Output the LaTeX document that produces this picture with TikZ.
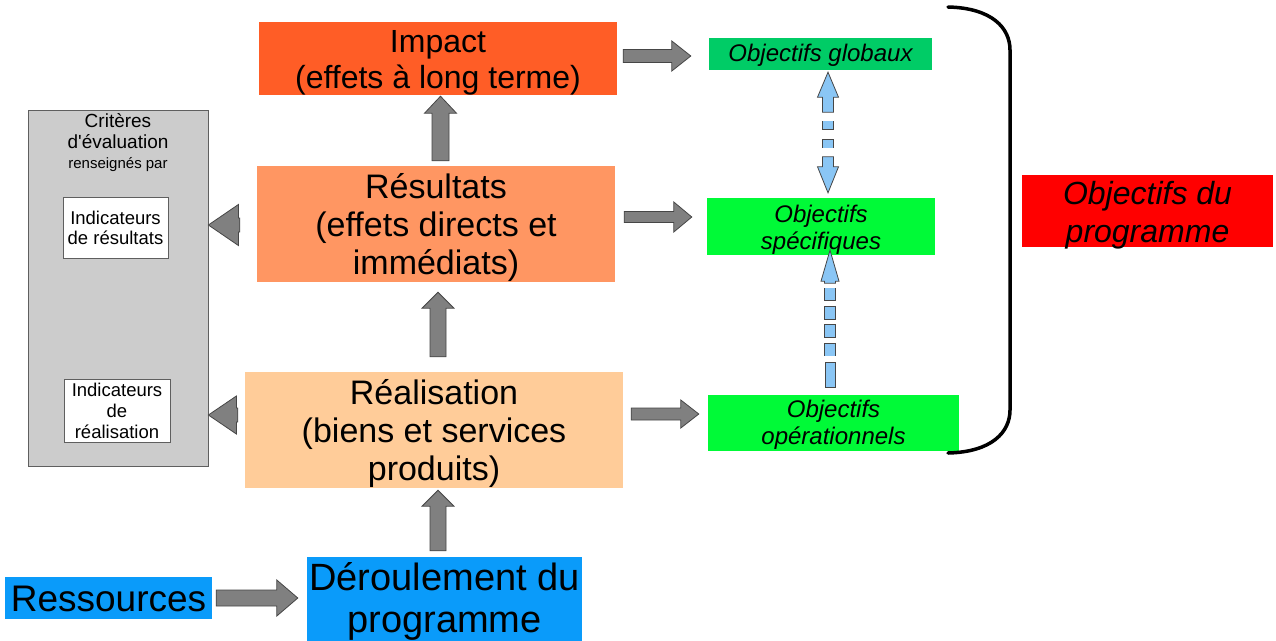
\documentclass[tikz,border=0pt]{standalone}
\usepackage{fontspec}
\setmainfont{Liberation Sans}
\usetikzlibrary{calc}
\definecolor{cimpact}{RGB}{255,93,38}
\definecolor{cres}{RGB}{255,150,98}
\definecolor{creal}{RGB}{255,204,153}
\definecolor{cblue}{RGB}{10,155,250}
\definecolor{cgreenA}{RGB}{0,204,102}
\definecolor{cgreenB}{RGB}{0,250,55}
\definecolor{cred}{RGB}{255,0,0}
\definecolor{cgreybox}{RGB}{204,204,204}
\definecolor{cgreyline}{RGB}{95,95,95}
\definecolor{carrow}{RGB}{128,128,128}
\definecolor{carrowline}{RGB}{70,70,70}
\definecolor{clblue}{RGB}{138,198,245}
\def\barshaft{6}\def\barhead{15}\def\barlen{19}
\tikzset{
  barshaft/.code={\def\barshaft{#1}},
  barhead/.code={\def\barhead{#1}},
  barlen/.code={\def\barlen{#1}},
  grarrow/.style={draw=carrowline, fill=carrow, line width=0.8pt, line join=miter},
  blarrow/.style={draw=carrowline, fill=clblue, line width=0.8pt, line join=miter},
  box/.style={rectangle, inner sep=0pt},
  txt/.style={inner sep=0pt, align=center, text=black},
  dashout/.style={draw=carrowline, line width=11.6pt},
  dashin/.style={draw=clblue, line width=10pt},
}
\newcommand\blockarr[3][]{%
  \path[#1] let \p1=#2, \p2=#3, \n1={atan2(\y2-\y1,\x2-\x1)}, \n2={veclen(\x2-\x1,\y2-\y1)} in
   [shift={(\p1)}, rotate=\n1] (0,-\barshaft) -- (\n2-\barlen,-\barshaft) -- (\n2-\barlen,-\barhead) -- (\n2,0) -- (\n2-\barlen,\barhead) -- (\n2-\barlen,\barshaft) -- (0,\barshaft) -- cycle;%
}
\begin{document}
\begin{tikzpicture}[x=1pt,y=1pt]
\useasboundingbox (0,0) rectangle (1276,-640);
\fill[white] (0,0) rectangle (1276,-640);
% main boxes
\node[box, fill=cimpact, minimum width=358, minimum height=73] (imp) at (438,-58.5) {};
\node[txt, font={\fontsize{32}{36}\selectfont}] (impt) at ($(imp)+(0,-4.5)$) {Impact\\(effets à long terme)};
\node[box, fill=cres, minimum width=358, minimum height=116] (res) at (436,-224) {};
\node[txt, font={\fontsize{34}{38}\selectfont}] (rest) at ($(res)+(0,-3)$) {Résultats\\(effets directs et\\immédiats)};
\node[box, fill=creal, minimum width=378, minimum height=116] (real) at (434,-430) {};
\node[txt, font={\fontsize{34}{38}\selectfont}] (realt) at ($(real)+(0,-4)$) {Réalisation\\(biens et services\\produits)};
\node[box, fill=cblue, minimum width=275, minimum height=86] (der) at (444.5,-600) {};
\node[txt, font={\fontsize{38}{42}\selectfont}] (dert) at ($(der)+(0,-1.5)$) {Déroulement du\\programme};
\node[box, fill=cblue, minimum width=207, minimum height=42] (ress) at (108.5,-598) {};
\node[txt, font={\fontsize{37}{42}\selectfont}] (resst) at ($(ress)+(0,-1)$) {Ressources};
% objectives
\node[box, fill=cgreenA, minimum width=223, minimum height=32] (og) at (820.5,-54) {};
\node[txt, font={\fontsize{24}{27}\selectfont\itshape}] (ogt) at ($(og)+(0,-1.5)$) {Objectifs globaux};
\node[box, fill=cgreenB, minimum width=228, minimum height=57] (os) at (821,-226.5) {};
\node[txt, font={\fontsize{24}{27}\selectfont\itshape}] (ost) at ($(os)+(0,-3)$) {Objectifs\\spécifiques};
\node[box, fill=cgreenB, minimum width=251, minimum height=56] (oo) at (833.5,-423) {};
\node[txt, font={\fontsize{24}{27}\selectfont\itshape}] (oot) at ($(oo)+(0,-2)$) {Objectifs\\opérationnels};
\node[box, fill=cred, minimum width=251, minimum height=72] (odp) at (1147.5,-211) {};
\node[txt, font={\fontsize{32}{38}\selectfont\itshape}] (odpt) at ($(odp)+(0,-4)$) {Objectifs du\\programme};
% evaluation criteria
\node[box, fill=cgreybox, draw=cgreyline, line width=0.8pt, minimum width=180, minimum height=356] (crit) at (118,-288) {};
\node[txt, anchor=north, font={\fontsize{19}{21}\selectfont}] (crittxt) at (118,-113) {Critères\\d\textquotesingle évaluation\\[-0.5pt]{\fontsize{15}{17}\selectfont renseignés par}};
\node[box, fill=white, draw=cgreyline, line width=0.8pt, minimum width=105, minimum height=61] (indres) at (115.5,-227.5) {};
\node[txt, font={\fontsize{18.5}{20.5}\selectfont}] (indrest) at ($(indres)+(0,-0.5)$) {Indicateurs\\de résultats};
\node[box, fill=white, draw=cgreyline, line width=0.8pt, minimum width=106, minimum height=63] (indreal) at (117,-410.5) {};
\node[txt, font={\fontsize{18.5}{21}\selectfont}] (indrealt) at ($(indreal)+(0,-0.5)$) {Indicateurs\\de\\réalisation};
% grey block arrows
\blockarr[grarrow, barshaft=6.5, barhead=15, barlen=19]{($(imp.east)+(6,2.5)$)}{($(og.west)+(-18,-2)$)}
\blockarr[grarrow, barshaft=5.5, barhead=15, barlen=18]{($(res.east)+(9,7)$)}{($(os.west)+(-15,9.5)$)}
\blockarr[grarrow, barshaft=6, barhead=14, barlen=18]{($(real.east)+(8,16)$)}{($(oo.west)+(-9,9)$)}
\blockarr[grarrow, barshaft=8.5, barhead=16, barlen=17]{($(res.north)+(4.5,5)$)}{($(imp.south)+(2.5,-1)$)}
\blockarr[grarrow, barshaft=8, barhead=16, barlen=16]{($(real.north)+(4,15)$)}{($(res.south)+(2,-10)$)}
\blockarr[grarrow, barshaft=8, barhead=16, barlen=16]{($(der.north)+(-6.5,6)$)}{($(real.south)+(4,-2)$)}
\blockarr[grarrow, barshaft=8, barhead=18, barlen=21]{($(ress.east)+(4,0)$)}{($(der.west)+(-9,2)$)}
\blockarr[grarrow, barshaft=7, barhead=20.5, barlen=30]{($(res.west)+(-17,-1)$)}{($(crit.east)+(0,63)$)}
\blockarr[grarrow, barshaft=7, barhead=19, barlen=28]{($(real.west)+(-7,15)$)}{($(crit.east)+(0,-127)$)}
% blue dashed arrow between global and specific objectives
\blockarr[blarrow, barshaft=5.5, barhead=10.5, barlen=25]{($(og.south)+(7.5,-42)$)}{($(og.south)+(7.5,-2)$)}
\blockarr[blarrow, barshaft=5.5, barhead=10.5, barlen=26]{($(os.north)+(7,41)$)}{($(os.north)+(7,5)$)}
\draw[dashout, dash pattern=on 9.6pt off 9.4pt, dash phase=0.8pt] ($(og.south)+(7.5,-51)$) -- ($(os.north)+(7,50)$);
\draw[dashin, dash pattern=on 8pt off 11pt] ($(og.south)+(7.5,-51)$) -- ($(os.north)+(7,50)$);
% blue dashed arrow from operational to specific objectives
\draw[dashout, dash pattern=on 13.6pt off 4.9pt, dash phase=0.8pt] ($(os.south)+(9,-33)$) -- ($(os.south)+(9,-100.5)$);
\draw[dashin, dash pattern=on 12pt off 6.5pt] ($(os.south)+(9,-33)$) -- ($(os.south)+(9,-100.5)$);
\draw[blarrow] ($(os.south)+(4,-107)$) rectangle ($(oo.north)+(2,7)$);
\blockarr[blarrow, barshaft=5.5, barhead=9, barlen=31]{($(os.south)+(9,-28)$)}{($(os.south)+(9,5)$)}
% bracket
\coordinate (brtop) at (948,-7);
\coordinate (brbot) at (948,-453);
\draw[line width=3.5pt, line cap=round] (brtop) .. controls (992,-8) and (1010,-28) .. (1010,-50) -- (1010,-410) .. controls (1010,-432) and (992,-452) .. (brbot);
\end{tikzpicture}
\end{document}
